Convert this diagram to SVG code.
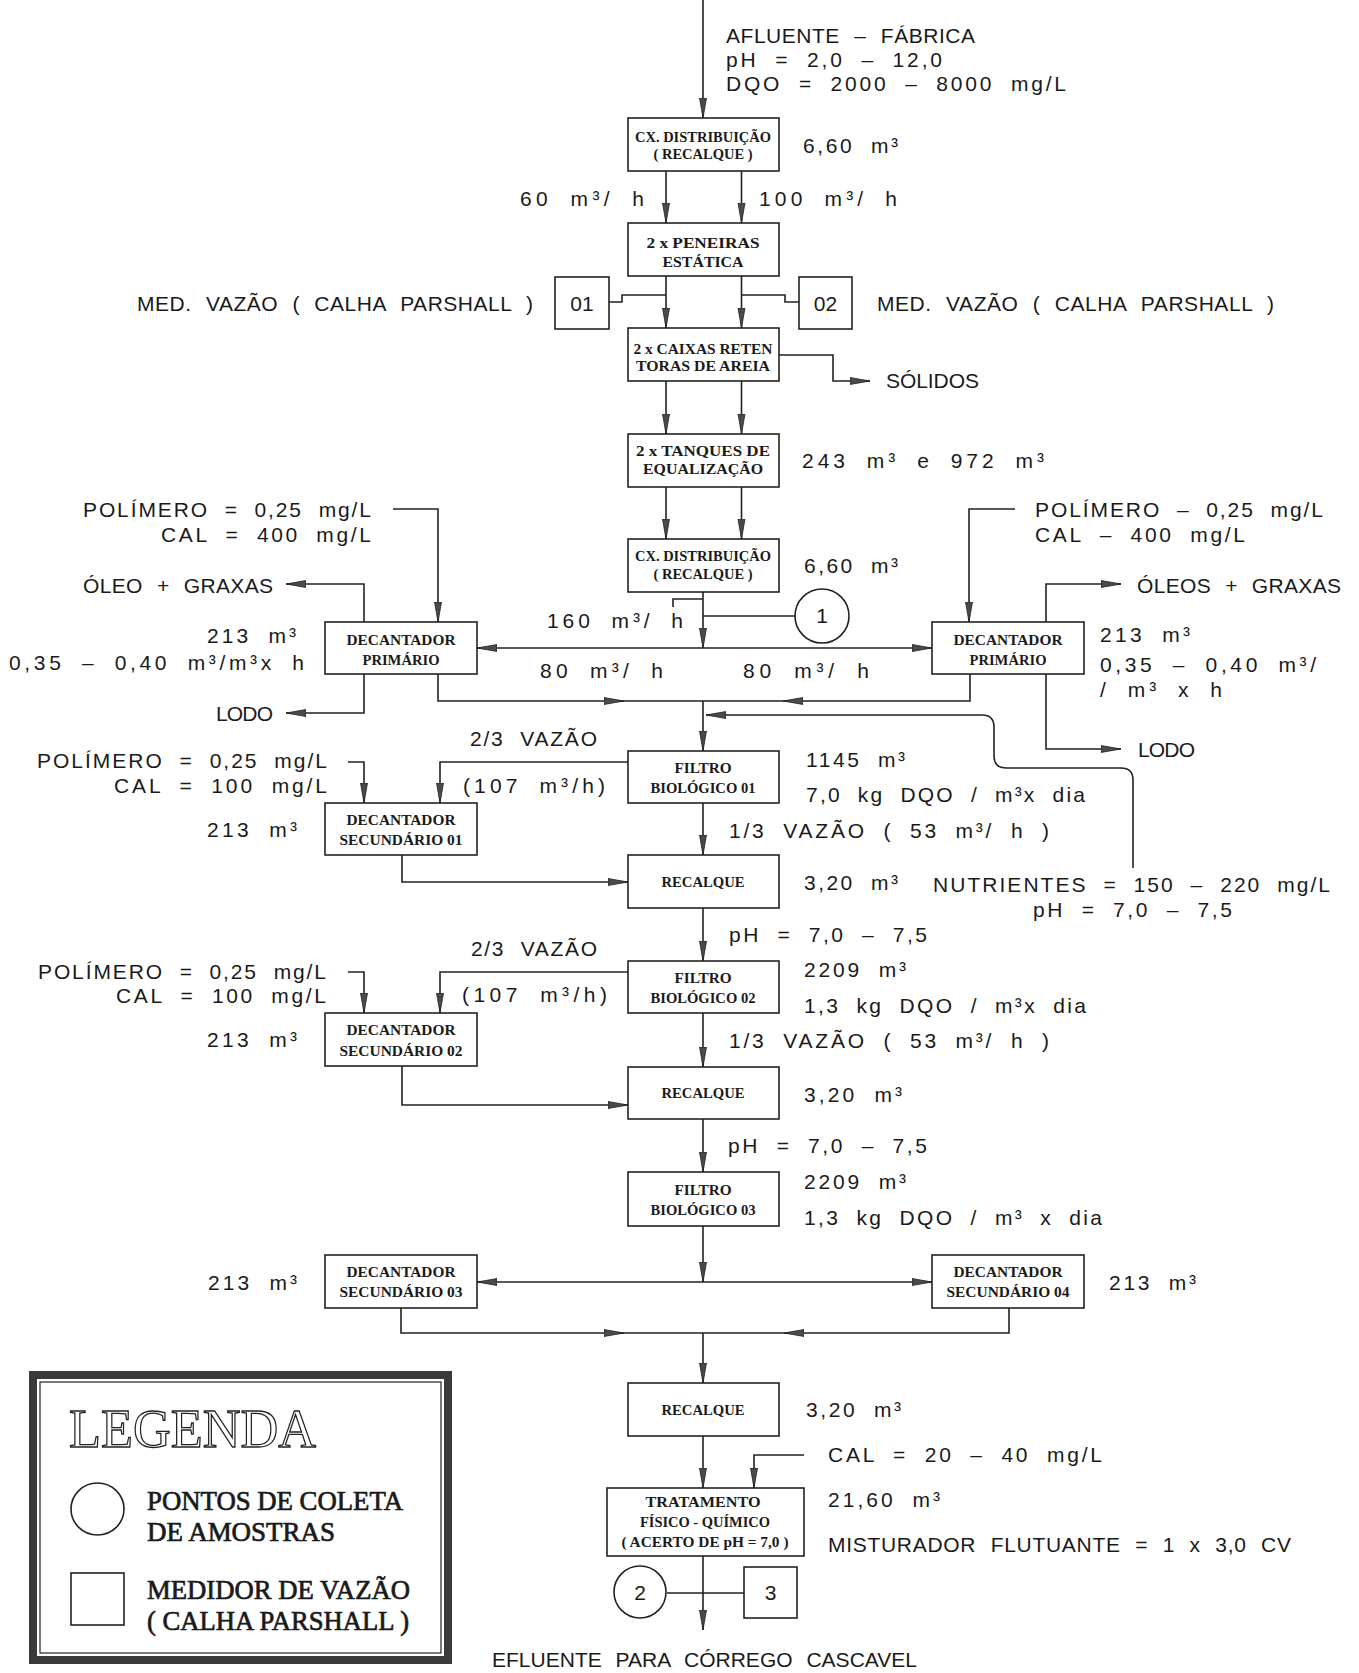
<svg xmlns="http://www.w3.org/2000/svg" width="1359" height="1673" viewBox="0 0 1359 1673">
<style>
.t{font-family:"Liberation Sans",Arial,sans-serif;font-size:21px;word-spacing:8px;fill:#1a1a1a}
.c{text-anchor:middle;word-spacing:0}
.b{font-family:"Liberation Serif","Times New Roman",serif;font-size:15px;font-weight:bold;fill:#1a1a1a;text-anchor:middle}
.box{fill:#fff;stroke:#222;stroke-width:1.6}
.ln{fill:none;stroke:#222;stroke-width:1.6}
.lg{font-family:"Liberation Serif","Times New Roman",serif;font-size:27px;fill:#1a1a1a;stroke:#1a1a1a;stroke-width:0.7}
</style>
<defs>
<marker id="ah" markerUnits="userSpaceOnUse" markerWidth="22" markerHeight="10" refX="20" refY="4" orient="auto">
<path d="M0,0.5 L20,4 L0,7.5 z" fill="#4a4a4a" stroke="#222" stroke-width="0.8"/>
</marker>
</defs>
<rect width="1359" height="1673" fill="#fff"/>

<g id="connectors" class="ln">
<path d="M703,0 V118" marker-end="url(#ah)"/>
<path d="M666,171 V223" marker-end="url(#ah)"/>
<path d="M741.5,171 V223" marker-end="url(#ah)"/>
<path d="M666,276 V328" marker-end="url(#ah)"/>
<path d="M741.5,276 V328" marker-end="url(#ah)"/>
<path d="M609,302 H622 V295 H666"/>
<path d="M741.5,295 H785 V302 H799"/>
<path d="M666,381 V434" marker-end="url(#ah)"/>
<path d="M741.5,381 V434" marker-end="url(#ah)"/>
<path d="M779,355 H833 V381 H870" marker-end="url(#ah)"/>
<path d="M666,487 V539" marker-end="url(#ah)"/>
<path d="M741.5,487 V539" marker-end="url(#ah)"/>
<path d="M703,592 V648" marker-end="url(#ah)"/>
<path d="M703,648 H477" marker-end="url(#ah)"/>
<path d="M703,648 H932" marker-end="url(#ah)"/>
<path d="M703,599 H673 V607"/>
<path d="M703,616 H795"/>
<path d="M393,509 H438 V622" marker-end="url(#ah)"/>
<path d="M364,622 V584 H286" marker-end="url(#ah)"/>
<path d="M364,674 V713 H286" marker-end="url(#ah)"/>
<path d="M438,674 V701 H624" marker-end="url(#ah)"/>
<path d="M624,701 H703"/>
<path d="M1015,509 H969 V622" marker-end="url(#ah)"/>
<path d="M1046,622 V584 H1121" marker-end="url(#ah)"/>
<path d="M1046,674 V749 H1121" marker-end="url(#ah)"/>
<path d="M970,674 V701 H783" marker-end="url(#ah)"/>
<path d="M783,701 H703"/>
<path d="M703,701 V751" marker-end="url(#ah)"/>
<path d="M1133,868 V780 Q1133,768 1121,768 H1006 Q994,768 994,756 V727 Q994,715 982,715 H706" marker-end="url(#ah)"/>
<path d="M628,762 H440 V803" marker-end="url(#ah)"/>
<path d="M348,762 H364 V803" marker-end="url(#ah)"/>
<path d="M703,803 V855" marker-end="url(#ah)"/>
<path d="M402,855 V882 H628" marker-end="url(#ah)"/>
<path d="M703,908 V961" marker-end="url(#ah)"/>
<path d="M628,972 H440 V1013" marker-end="url(#ah)"/>
<path d="M348,972 H364 V1013" marker-end="url(#ah)"/>
<path d="M703,1013 V1067" marker-end="url(#ah)"/>
<path d="M402,1066 V1105 H628" marker-end="url(#ah)"/>
<path d="M703,1119 V1172" marker-end="url(#ah)"/>
<path d="M703,1226 V1282" marker-end="url(#ah)"/>
<path d="M703,1282 H477" marker-end="url(#ah)"/>
<path d="M703,1282 H932" marker-end="url(#ah)"/>
<path d="M401,1308 V1333 H624" marker-end="url(#ah)"/>
<path d="M624,1333 H703"/>
<path d="M1009,1308 V1333 H784" marker-end="url(#ah)"/>
<path d="M784,1333 H703"/>
<path d="M703,1333 V1383" marker-end="url(#ah)"/>
<path d="M703,1436 V1488" marker-end="url(#ah)"/>
<path d="M804,1455 H754 V1488" marker-end="url(#ah)"/>
<path d="M703,1556 V1630" marker-end="url(#ah)"/>
<path d="M667,1593 H744"/>
</g>

<g id="cx1"><rect class="box" x="628" y="118" width="151" height="53"/>
<text class="b" x="703" y="142" textLength="136" lengthAdjust="spacingAndGlyphs">CX. DISTRIBUIÇÃO</text>
<text class="b" x="703" y="159" textLength="99" lengthAdjust="spacingAndGlyphs">( RECALQUE )</text></g>
<g id="peneiras"><rect class="box" x="628" y="223" width="151" height="53"/>
<text class="b" x="703" y="248" textLength="113" lengthAdjust="spacingAndGlyphs">2 x PENEIRAS</text>
<text class="b" x="703" y="267" textLength="81" lengthAdjust="spacingAndGlyphs">ESTÁTICA</text></g>
<g id="med01"><rect class="box" x="555" y="277" width="54" height="52"/>
<text class="t c" x="582" y="311">01</text></g>
<g id="med02"><rect class="box" x="799" y="277" width="53" height="52"/>
<text class="t c" x="825.5" y="311">02</text></g>
<g id="caixas"><rect class="box" x="628" y="328" width="151" height="53"/>
<text class="b" x="703" y="354" textLength="139" lengthAdjust="spacingAndGlyphs">2 x CAIXAS RETEN</text>
<text class="b" x="703" y="371" textLength="134" lengthAdjust="spacingAndGlyphs">TORAS DE AREIA</text></g>
<g id="tanques"><rect class="box" x="628" y="434" width="151" height="53"/>
<text class="b" x="703" y="456" textLength="134" lengthAdjust="spacingAndGlyphs">2 x TANQUES DE</text>
<text class="b" x="703" y="474" textLength="120" lengthAdjust="spacingAndGlyphs">EQUALIZAÇÃO</text></g>
<g id="cx2"><rect class="box" x="628" y="539" width="151" height="53"/>
<text class="b" x="703" y="561" textLength="136" lengthAdjust="spacingAndGlyphs">CX. DISTRIBUIÇÃO</text>
<text class="b" x="703" y="579" textLength="99" lengthAdjust="spacingAndGlyphs">( RECALQUE )</text></g>
<g id="ponto1"><circle cx="822" cy="616" r="27" fill="#fff" stroke="#222" stroke-width="1.6"/>
<text class="t c" x="822" y="623">1</text></g>
<g id="decprim-e"><rect class="box" x="325" y="622" width="152" height="52"/>
<text class="b" x="401" y="645" textLength="109" lengthAdjust="spacingAndGlyphs">DECANTADOR</text>
<text class="b" x="401" y="665" textLength="77" lengthAdjust="spacingAndGlyphs">PRIMÁRIO</text></g>
<g id="decprim-d"><rect class="box" x="932" y="622" width="152" height="52"/>
<text class="b" x="1008" y="645" textLength="109" lengthAdjust="spacingAndGlyphs">DECANTADOR</text>
<text class="b" x="1008" y="665" textLength="77" lengthAdjust="spacingAndGlyphs">PRIMÁRIO</text></g>
<g id="filtro01"><rect class="box" x="628" y="751" width="151" height="52"/>
<text class="b" x="703" y="773" textLength="57" lengthAdjust="spacingAndGlyphs">FILTRO</text>
<text class="b" x="703" y="793" textLength="105" lengthAdjust="spacingAndGlyphs">BIOLÓGICO 01</text></g>
<g id="decsec01"><rect class="box" x="325" y="803" width="152" height="52"/>
<text class="b" x="401" y="825" textLength="109" lengthAdjust="spacingAndGlyphs">DECANTADOR</text>
<text class="b" x="401" y="845" textLength="123" lengthAdjust="spacingAndGlyphs">SECUNDÁRIO 01</text></g>
<g id="recalque1"><rect class="box" x="628" y="855" width="151" height="53"/>
<text class="b" x="703" y="887" textLength="83" lengthAdjust="spacingAndGlyphs">RECALQUE</text></g>
<g id="filtro02"><rect class="box" x="628" y="961" width="151" height="52"/>
<text class="b" x="703" y="983" textLength="57" lengthAdjust="spacingAndGlyphs">FILTRO</text>
<text class="b" x="703" y="1003" textLength="105" lengthAdjust="spacingAndGlyphs">BIOLÓGICO 02</text></g>
<g id="decsec02"><rect class="box" x="325" y="1013" width="152" height="53"/>
<text class="b" x="401" y="1035" textLength="109" lengthAdjust="spacingAndGlyphs">DECANTADOR</text>
<text class="b" x="401" y="1056" textLength="123" lengthAdjust="spacingAndGlyphs">SECUNDÁRIO 02</text></g>
<g id="recalque2"><rect class="box" x="628" y="1067" width="151" height="52"/>
<text class="b" x="703" y="1098" textLength="83" lengthAdjust="spacingAndGlyphs">RECALQUE</text></g>
<g id="filtro03"><rect class="box" x="628" y="1172" width="151" height="54"/>
<text class="b" x="703" y="1195" textLength="57" lengthAdjust="spacingAndGlyphs">FILTRO</text>
<text class="b" x="703" y="1215" textLength="105" lengthAdjust="spacingAndGlyphs">BIOLÓGICO 03</text></g>
<g id="decsec03"><rect class="box" x="325" y="1255" width="152" height="53"/>
<text class="b" x="401" y="1277" textLength="109" lengthAdjust="spacingAndGlyphs">DECANTADOR</text>
<text class="b" x="401" y="1297" textLength="123" lengthAdjust="spacingAndGlyphs">SECUNDÁRIO 03</text></g>
<g id="decsec04"><rect class="box" x="932" y="1255" width="152" height="53"/>
<text class="b" x="1008" y="1277" textLength="109" lengthAdjust="spacingAndGlyphs">DECANTADOR</text>
<text class="b" x="1008" y="1297" textLength="123" lengthAdjust="spacingAndGlyphs">SECUNDÁRIO 04</text></g>
<g id="recalque3"><rect class="box" x="628" y="1383" width="151" height="53"/>
<text class="b" x="703" y="1415" textLength="83" lengthAdjust="spacingAndGlyphs">RECALQUE</text></g>
<g id="tratamento"><rect class="box" x="607" y="1488" width="197" height="68"/>
<text class="b" x="703" y="1507" textLength="115" lengthAdjust="spacingAndGlyphs">TRATAMENTO</text>
<text class="b" x="705" y="1527" textLength="130" lengthAdjust="spacingAndGlyphs">FÍSICO - QUÍMICO</text>
<text class="b" x="705" y="1547" textLength="167" lengthAdjust="spacingAndGlyphs">( ACERTO DE pH = 7,0 )</text></g>
<g id="ponto2"><circle cx="640" cy="1592" r="26" fill="#fff" stroke="#222" stroke-width="1.6"/>
<text class="t c" x="640" y="1600">2</text></g>
<g id="med3"><rect class="box" x="744" y="1567" width="53" height="51"/>
<text class="t c" x="770.5" y="1600">3</text></g>

<g id="labels" class="t">
<text x="726" y="43" textLength="249" lengthAdjust="spacing">AFLUENTE – FÁBRICA</text>
<text x="726" y="67" textLength="216" lengthAdjust="spacing">pH = 2,0 – 12,0</text>
<text x="726" y="91" textLength="340" lengthAdjust="spacing">DQO = 2000 – 8000 mg/L</text>
<text x="803" y="153" textLength="95" lengthAdjust="spacing">6,60 m³</text>
<text x="520" y="206" textLength="124" lengthAdjust="spacing">60 m³/ h</text>
<text x="759" y="206" textLength="138" lengthAdjust="spacing">100 m³/ h</text>
<text x="137" y="311" textLength="396" lengthAdjust="spacing">MED. VAZÃO ( CALHA PARSHALL )</text>
<text x="877" y="311" textLength="397" lengthAdjust="spacing">MED. VAZÃO ( CALHA PARSHALL )</text>
<text x="886" y="388" textLength="93" lengthAdjust="spacing">SÓLIDOS</text>
<text x="802" y="468" textLength="242" lengthAdjust="spacing">243 m³ e 972 m³</text>
<text x="83" y="517" textLength="288" lengthAdjust="spacing">POLÍMERO = 0,25 mg/L</text>
<text x="161" y="542" textLength="210" lengthAdjust="spacing">CAL = 400 mg/L</text>
<text x="1035" y="517" textLength="288" lengthAdjust="spacing">POLÍMERO – 0,25 mg/L</text>
<text x="1035" y="542" textLength="210" lengthAdjust="spacing">CAL – 400 mg/L</text>
<text x="804" y="573" textLength="94" lengthAdjust="spacing">6,60 m³</text>
<text x="83" y="593" textLength="190" lengthAdjust="spacing">ÓLEO + GRAXAS</text>
<text x="1137" y="593" textLength="204" lengthAdjust="spacing">ÓLEOS + GRAXAS</text>
<text x="547" y="628" textLength="136" lengthAdjust="spacing">160 m³/ h</text>
<text x="207" y="643" textLength="89" lengthAdjust="spacing">213 m³</text>
<text x="9" y="670" textLength="295" lengthAdjust="spacing">0,35 – 0,40 m³/m³x h</text>
<text x="1100" y="642" textLength="90" lengthAdjust="spacing">213 m³</text>
<text x="1100" y="672" textLength="216" lengthAdjust="spacing">0,35 – 0,40 m³/</text>
<text x="1100" y="697" textLength="122" lengthAdjust="spacing">/ m³ x h</text>
<text x="540" y="678" textLength="123" lengthAdjust="spacing">80 m³/ h</text>
<text x="743" y="678" textLength="126" lengthAdjust="spacing">80 m³/ h</text>
<text x="216" y="721" textLength="57" lengthAdjust="spacing">LODO</text>
<text x="1138" y="757" textLength="57" lengthAdjust="spacing">LODO</text>
<text x="470" y="746" textLength="127" lengthAdjust="spacing">2/3 VAZÃO</text>
<text x="806" y="767" textLength="99" lengthAdjust="spacing">1145 m³</text>
<text x="37" y="768" textLength="290" lengthAdjust="spacing">POLÍMERO = 0,25 mg/L</text>
<text x="114" y="793" textLength="213" lengthAdjust="spacing">CAL = 100 mg/L</text>
<text x="463" y="793" textLength="142" lengthAdjust="spacing">(107 m³/h)</text>
<text x="806" y="802" textLength="279" lengthAdjust="spacing">7,0 kg DQO / m³x dia</text>
<text x="207" y="837" textLength="90" lengthAdjust="spacing">213 m³</text>
<text x="729" y="838" textLength="320" lengthAdjust="spacing">1/3 VAZÃO ( 53 m³/ h )</text>
<text x="804" y="890" textLength="94" lengthAdjust="spacing">3,20 m³</text>
<text x="933" y="892" textLength="397" lengthAdjust="spacing">NUTRIENTES = 150 – 220 mg/L</text>
<text x="1033" y="917" textLength="199" lengthAdjust="spacing">pH = 7,0 – 7,5</text>
<text x="729" y="942" textLength="198" lengthAdjust="spacing">pH = 7,0 – 7,5</text>
<text x="471" y="956" textLength="126" lengthAdjust="spacing">2/3 VAZÃO</text>
<text x="804" y="977" textLength="102" lengthAdjust="spacing">2209 m³</text>
<text x="38" y="979" textLength="288" lengthAdjust="spacing">POLÍMERO = 0,25 mg/L</text>
<text x="116" y="1003" textLength="210" lengthAdjust="spacing">CAL = 100 mg/L</text>
<text x="462" y="1002" textLength="145" lengthAdjust="spacing">(107 m³/h)</text>
<text x="804" y="1013" textLength="282" lengthAdjust="spacing">1,3 kg DQO / m³x dia</text>
<text x="207" y="1047" textLength="90" lengthAdjust="spacing">213 m³</text>
<text x="729" y="1048" textLength="320" lengthAdjust="spacing">1/3 VAZÃO ( 53 m³/ h )</text>
<text x="804" y="1102" textLength="98" lengthAdjust="spacing">3,20 m³</text>
<text x="728" y="1153" textLength="199" lengthAdjust="spacing">pH = 7,0 – 7,5</text>
<text x="804" y="1189" textLength="102" lengthAdjust="spacing">2209 m³</text>
<text x="804" y="1225" textLength="298" lengthAdjust="spacing">1,3 kg DQO / m³ x dia</text>
<text x="208" y="1290" textLength="89" lengthAdjust="spacing">213 m³</text>
<text x="1109" y="1290" textLength="87" lengthAdjust="spacing">213 m³</text>
<text x="806" y="1417" textLength="95" lengthAdjust="spacing">3,20 m³</text>
<text x="828" y="1462" textLength="274" lengthAdjust="spacing">CAL = 20 – 40 mg/L</text>
<text x="828" y="1507" textLength="112" lengthAdjust="spacing">21,60 m³</text>
<text x="828" y="1552" textLength="463" lengthAdjust="spacing">MISTURADOR FLUTUANTE = 1 x 3,0 CV</text>
<text x="492" y="1667" textLength="425" lengthAdjust="spacing">EFLUENTE PARA CÓRREGO CASCAVEL</text>
</g>

<g id="legenda">
<rect x="33" y="1375" width="415" height="285" fill="#fff" stroke="#3a3a3a" stroke-width="8"/>
<rect x="40" y="1382" width="401" height="271" fill="none" stroke="#222" stroke-width="1.2"/>
<text x="69" y="1447" font-family="Liberation Serif, Times New Roman, serif" font-size="55" fill="#fff" stroke="#222" stroke-width="1.3" textLength="247" lengthAdjust="spacingAndGlyphs">LEGENDA</text>
<ellipse cx="97.5" cy="1509" rx="26.5" ry="26" fill="#fff" stroke="#222" stroke-width="1.6"/>
<text class="lg" x="147" y="1510" textLength="256" lengthAdjust="spacingAndGlyphs">PONTOS DE COLETA</text>
<text class="lg" x="147" y="1541" textLength="188" lengthAdjust="spacingAndGlyphs">DE AMOSTRAS</text>
<rect x="71" y="1573" width="53" height="52" fill="#fff" stroke="#222" stroke-width="1.6"/>
<text class="lg" x="147" y="1599" textLength="263" lengthAdjust="spacingAndGlyphs">MEDIDOR DE VAZÃO</text>
<text class="lg" x="147" y="1630" textLength="262" lengthAdjust="spacingAndGlyphs">( CALHA PARSHALL )</text>
</g>
</svg>
